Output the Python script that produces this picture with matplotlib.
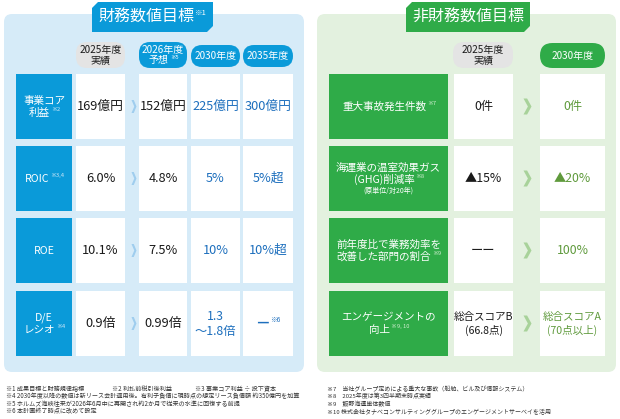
import matplotlib
matplotlib.use("Agg")
import matplotlib.pyplot as plt
from matplotlib.patches import FancyBboxPatch, Polygon, Rectangle

plt.rcParams['font.family'] = ['Noto Sans CJK JP', 'DejaVu Sans']

# ---- data ----
fin_title = "財務数値目標"
fin_title_note = "※1"
fin_headers = [["2025年度", "実績"], ["2026年度", "予想"], ["2030年度"], ["2035年度"]]
fin_header_notes = ["", "※5", "", ""]
fin_labels = [["事業コア", "利益"], ["ROIC"], ["ROE"], ["D/E", "レシオ"]]
fin_label_notes = ["※2", "※3,4", "", "※4"]
fin_actual_2025 = ["169億円", "6.0%", "10.1%", "0.9倍"]
fin_forecast_2026 = ["152億円", "4.8%", "7.5%", "0.99倍"]
fin_target_2030 = [["225億円"], ["5%"], ["10%"], ["1.3", "～1.8倍"]]
fin_target_2035 = ["300億円", "5%超", "10%超", "―"]
fin_target_2035_notes = ["", "", "", "※6"]

nonfin_title = "非財務数値目標"
nonfin_headers = [["2025年度", "実績"], ["2030年度"]]
nonfin_labels = [["重大事故発生件数"],
                 ["海運業の温室効果ガス", "(GHG)削減率"],
                 ["前年度比で業務効率を", "改善した部門の割合"],
                 ["エンゲージメントの", "向上"]]
nonfin_label_notes = ["※7", "※8", "※9", "※9, 10"]
nonfin_label_sub = ["", "(原単位/対20年)", "", ""]
nonfin_actual_2025 = [["0件"], ["▲15%"], ["ーー"], ["総合スコアB", "(66.8点)"]]
nonfin_target_2030 = [["0件"], ["▲20%"], ["100%"], ["総合スコアA", "(70点以上)"]]

fin_footnotes = [
    ["※1 成果目標と財務規律指標", "※2 利払前税引後利益", "※3 事業コア利益 ÷ 投下資本"],
    ["※4 2030年度以降の数値は新リース会計適用後。有利子負債に現時点の想定リース負債額 約350億円を加算"],
    ["※5 ホルムズ海峡往来が2026年6月中に再開され約2か月で従来の水準に回復する前提"],
    ["※6 本計画終了時点に改めて設定"],
]
nonfin_footnotes = [
    "※7　当社グループ定めによる重大な事故（船舶、ビル及び情報システム）",
    "※8　2025年度は第3四半期末時点実績",
    "※9　飯野海運単体数値",
    "※10 株式会社タナベコンサルティンググループのエンゲージメントサーベイを活用",
]

# ---- colours ----
BLUE = "#0a9ad9"
BLUE_BG = "#d6ebf8"
BLUE_TXT = "#1d6fbd"
BLUE_ARROW = "#9fcdee"
GREEN = "#2fab48"
GREEN_BG = "#e3f1df"
GREEN_TXT = "#5f9a3c"
GREEN_ARROW = "#a8d29a"
GRAY_PILL = "#e4e4e4"
DARK = "#1a1a1a"

fig = plt.figure(figsize=(6.2, 4.19), dpi=100)
ax = fig.add_axes([0, 0, 1, 1])
ax.set_xlim(0, 620)
ax.set_ylim(419, 0)
ax.axis("off")
renderer = fig.canvas.get_renderer()


def text_note(cx, cy, s, note, size, color, note_color=None, note_size=None, weight="normal"):
    """Draw text with a small superscript note, centred as a group."""
    t = ax.text(cx, cy, s, fontsize=size, color=color, ha="left", va="center",
                fontweight=weight)
    w = t.get_window_extent(renderer).width
    if not note:
        t.set_x(cx - w / 2)
        return
    n = ax.text(cx, cy, note, fontsize=note_size or size * 0.55,
                color=note_color or color, ha="left", va="center")
    wn = n.get_window_extent(renderer).width
    x0 = cx - (w + wn) / 2
    t.set_x(x0)
    n.set_x(x0 + w + 1)
    n.set_y(cy - size * 0.35)


def lines_block(cx, cy, lines, note, size, color, line_h, note_color=None, note_size=None):
    n = len(lines)
    for i, ln in enumerate(lines):
        y = cy + (i - (n - 1) / 2) * line_h
        text_note(cx, y, ln, note if i == n - 1 else "", size, color, note_color, note_size)


def pill(x0, x1, y0, y1, color, r=None):
    h = y1 - y0
    ax.add_patch(FancyBboxPatch((x0, y0), x1 - x0, h,
                                boxstyle=f"round,pad=0,rounding_size={r or h / 2}",
                                fc=color, ec="none"))


def tab(x0, x1, y0, y1, color, c=6):
    ax.add_patch(Polygon([(x0, y0 + c), (x0 + c, y0), (x1, y0), (x1, y1 - c),
                          (x1 - c, y1), (x0, y1)], closed=True, fc=color, ec="none"))


def chevron(xc, yc, w, h, color):
    ax.add_patch(Polygon([(xc - w / 2, yc - h / 2), (xc - w / 2 + w * 0.45, yc - h / 2),
                          (xc + w / 2, yc), (xc - w / 2 + w * 0.45, yc + h / 2),
                          (xc - w / 2, yc + h / 2), (xc - w / 2 + w * 0.55, yc)],
                         closed=True, fc=color, ec="none"))


rows_y = [(74, 139), (146, 211), (218, 283), (291, 356)]

# ---- left panel ----
ax.add_patch(FancyBboxPatch((4, 14), 300, 358, boxstyle="round,pad=0,rounding_size=8",
                            fc=BLUE_BG, ec="none"))
tab(92, 213, 2, 32, BLUE)
text_note(152, 17, fin_title, fin_title_note, 11.5, "white", note_size=5.5)

fin_cols = [(76, 125), (139, 187), (191, 240), (243, 293)]
for j, (x0, x1) in enumerate(fin_cols):
    col = GRAY_PILL if j == 0 else BLUE
    tc = DARK if j == 0 else "white"
    if len(fin_headers[j]) == 2:
        pill(x0, x1, 42, 68, col, r=11)
    else:
        pill(x0, x1, 45, 67, col)
    lines_block((x0 + x1) / 2, 55.5, fin_headers[j], fin_header_notes[j], 7.2, tc, 10,
                note_size=4.0)

fin_values = [fin_actual_2025, fin_forecast_2026, fin_target_2030, fin_target_2035]
for i, (y0, y1) in enumerate(rows_y):
    cy = (y0 + y1) / 2
    ax.add_patch(Rectangle((16, y0), 56, y1 - y0, fc=BLUE, ec="none"))
    lines_block(44, cy, fin_labels[i], fin_label_notes[i], 7.6, "white", 12,
                note_color="#cfe8f8", note_size=4.2)
    for j, (x0, x1) in enumerate(fin_cols):
        ax.add_patch(Rectangle((x0, y0), x1 - x0, y1 - y0, fc="white", ec="none"))
        xc = (x0 + x1) / 2
        color = DARK if j < 2 else BLUE_TXT
        v = fin_values[j][i]
        if j == 2:
            lines_block(xc, cy, v, "", 9.2 if len(v) == 1 else 8.8, color, 15)
        elif j == 3:
            wt = "bold" if fin_target_2035_notes[i] else "normal"
            text_note(xc, cy, v, fin_target_2035_notes[i], 9.2, color, note_size=4.8,
                      weight=wt)
        else:
            text_note(xc, cy, v, "", 9.2, color)
    chevron(134, cy, 5, 13, BLUE_ARROW)

# ---- right panel ----
ax.add_patch(FancyBboxPatch((317, 14), 299, 358, boxstyle="round,pad=0,rounding_size=8",
                            fc=GREEN_BG, ec="none"))
tab(406, 530, 2, 32, GREEN)
text_note(468, 17, nonfin_title, "", 11.5, "white")

nonfin_cols = [(454, 513), (540, 605)]
pill(453, 513, 42, 68, GRAY_PILL, r=11)
lines_block(483, 55.5, nonfin_headers[0], "", 7.2, DARK, 10)
pill(540, 605, 43, 68, GREEN)
lines_block(572.5, 55.5, nonfin_headers[1], "", 7.2, "white", 10)

for i, (y0, y1) in enumerate(rows_y):
    cy = (y0 + y1) / 2
    ax.add_patch(Rectangle((329, y0), 119, y1 - y0, fc=GREEN, ec="none"))
    lab = nonfin_labels[i]
    if nonfin_label_sub[i]:
        lines_block(388.5, cy - 5, lab, nonfin_label_notes[i], 7.6, "white", 11,
                    note_color="#cfeecf", note_size=4.2)
        text_note(388.5, cy + 12, nonfin_label_sub[i], "", 5.0, "white")
    else:
        lines_block(388.5, cy, lab, nonfin_label_notes[i], 7.6, "white", 12,
                    note_color="#cfeecf", note_size=4.2)
    for j, (x0, x1) in enumerate(nonfin_cols):
        ax.add_patch(Rectangle((x0, y0), x1 - x0, y1 - y0, fc="white", ec="none"))
        v = (nonfin_actual_2025 if j == 0 else nonfin_target_2030)[i]
        color = DARK if j == 0 else GREEN_TXT
        size = 8.8 if len(v) == 1 else 7.6
        lines_block((x0 + x1) / 2, cy, v, "", size, color, 14)
    chevron(527.5, cy, 8, 16, GREEN_ARROW)

# ---- footnotes ----
foot_y = [389, 396.5, 404, 411.5]
fin_foot_x = [6, 112, 195]
for k, row in enumerate(fin_footnotes):
    for m, s in enumerate(row):
        ax.text(fin_foot_x[m], foot_y[k], s, fontsize=4.4, color="#333333",
                ha="left", va="center")
for k, s in enumerate(nonfin_footnotes):
    ax.text(327, foot_y[k], s, fontsize=4.3, color="#333333", ha="left", va="center")

fig.savefig("out.png", dpi=100)
